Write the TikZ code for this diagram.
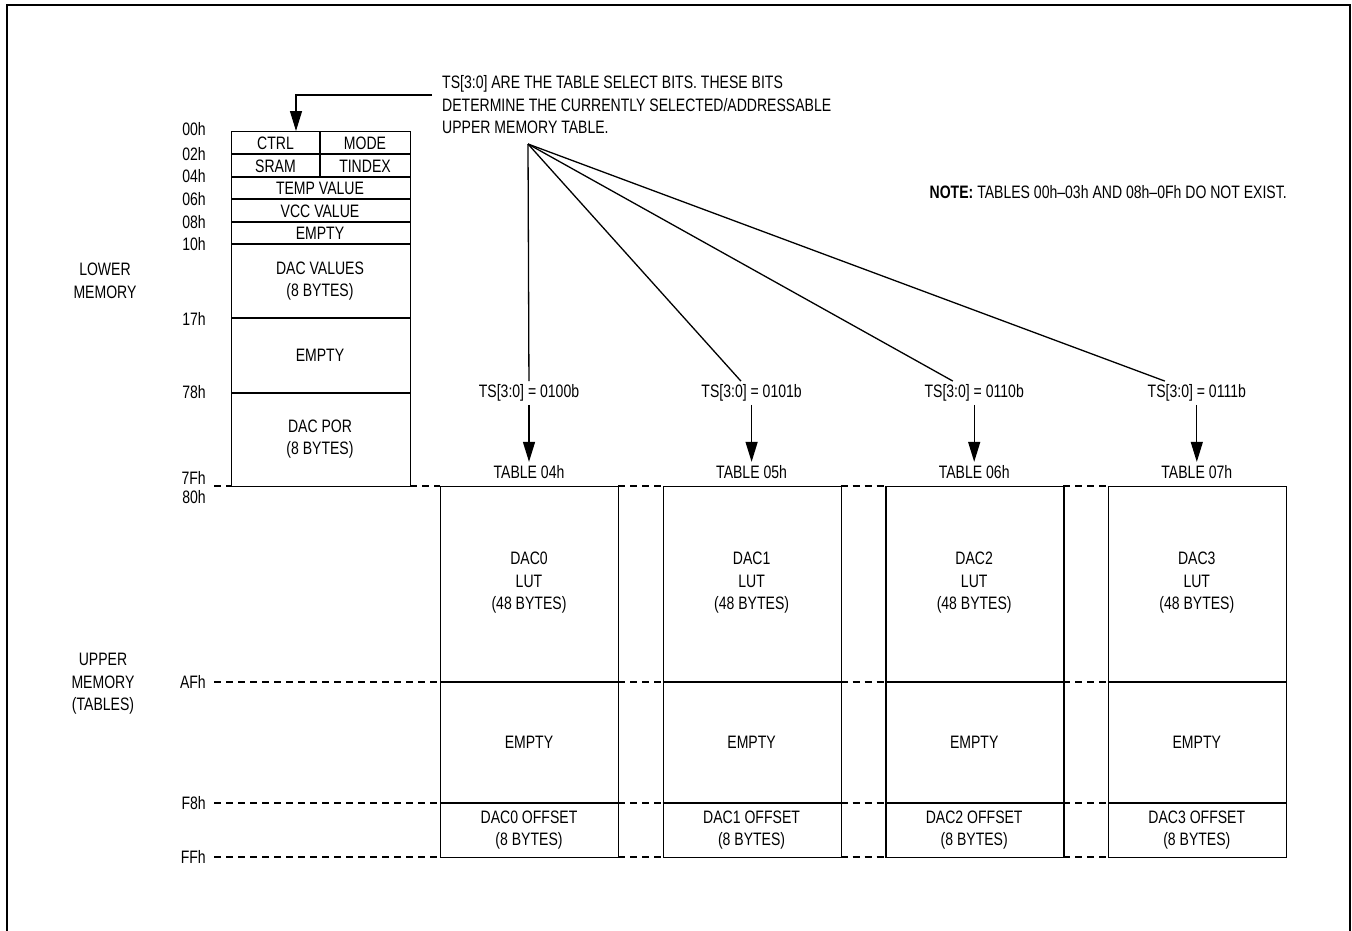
\documentclass[tikz,border=0pt]{standalone}
\usepackage{fontspec}
\setmainfont{Liberation Sans}[FakeStretch=0.78]
\usetikzlibrary{arrows.meta}
\tikzset{
  cell/.style = {draw, line width=1.3pt, inner sep=0pt, anchor=north west},
  guide/.style = {line width=1.2pt, dash pattern=on 7pt off 5pt},
  tip/.style = {-{Triangle[length=20pt,width=12pt]}, line width=1.3pt},
  adr/.style = {anchor=east, inner sep=0pt},
  lbl/.style = {align=center}
}
\begin{document}
\begin{tikzpicture}[x=1pt, y=-1pt, font=\fontsize{18}{22.5}\selectfont]
\useasboundingbox (0,0) rectangle (1352,930);
\draw [line width=2pt] (7,931) -- (7,5) -- (1350,5) -- (1350,931);
\draw [guide] (214,486) -- (231,486);
\draw [guide] (410,486) -- (440,486);
\foreach \yy in {682,803,857} \draw [guide] (214,\yy) -- (440,\yy);
\node [cell, minimum width=179pt, minimum height=355pt] (lowblk) at (231,131) {};
\foreach \yy in {154,177,199,222,244,318,393} \draw [line width=1.3pt] (231,\yy) -- (410,\yy);
\draw [line width=1.3pt] (320,131) -- (320,177);
\node (ctrl) at (275.5,143) {CTRL};
\node (mode) at (365,143) {MODE};
\node (sram) at (275.5,166) {SRAM};
\node (tidx) at (365,166) {TINDEX};
\node (temp) at (320,188) {TEMP VALUE};
\node (vcc) at (320,211) {VCC VALUE};
\node (emp) at (320,233) {EMPTY};
\node [lbl] (dacv) at (320,281) {DAC VALUES\\(8 BYTES)};
\node (empb) at (320,355) {EMPTY};
\node [lbl] (dacpor) at (320,439) {DAC POR\\(8 BYTES)};
\foreach \a/\yy in {00h/129,02h/154,04h/176,06h/199,08h/222,10h/244,17h/319,78h/392,7Fh/478,80h/497,AFh/682,F8h/803,FFh/857}
  \node [adr] (a\a) at (206,\yy) {\a};
\node [lbl] (lowmem) at (105,281) {LOWER\\MEMORY};
\node [lbl] (upmem) at (103,684) {UPPER\\MEMORY\\(TABLES)};
\node [anchor=west, align=left, inner sep=0pt] (tsnote) at (442,105) {TS[3:0] ARE THE TABLE SELECT BITS. THESE BITS\\DETERMINE THE CURRENTLY SELECTED/ADDRESSABLE\\UPPER MEMORY TABLE.};
\node [anchor=east, inner sep=0pt] (note) at (1287,192) {\textbf{NOTE:} TABLES 00h--03h AND 08h--0Fh DO NOT EXIST.};
\coordinate (cstart) at (432,95);
\coordinate (bend) at (296,95);
\draw [tip] (cstart) -- (bend) -- (bend |- lowblk.north);
\coordinate (fan) at (528,144);
\foreach \i/\tn/\bits in {0/04h/0100b,1/05h/0101b,2/06h/0110b,3/07h/0111b} {
  \pgfmathsetmacro{\xl}{440+222.6*\i}
  \pgfmathsetmacro{\xc}{\xl+89}
  \ifnum\i>0
    \foreach \yy in {486,682,803,857} \draw [guide] (\xl-44.6,\yy) -- (\xl,\yy);
  \fi
  \node [cell, minimum width=178pt, minimum height=371pt] (tab\i) at (\xl,486) {};
  \draw [line width=1.3pt] (\xl,682) -- (\xl+178,682);
  \draw [line width=1.3pt] (\xl,803) -- (\xl+178,803);
  \node [lbl] (lut\i) at (\xc,583) {DAC\i\\LUT\\(48 BYTES)};
  \node (emp\i) at (\xc,742) {EMPTY};
  \node [lbl] (off\i) at (\xc,830) {DAC\i{} OFFSET\\(8 BYTES)};
  \node (tname\i) at (\xc,472) {TABLE \tn};
  \node (sel\i) at (\xc,393) {TS[3:0] = \bits};
  \draw [tip] (sel\i) -- (tname\i);
  \draw [line width=1.3pt] (fan) -- (sel\i);
}
\end{tikzpicture}
\end{document}
